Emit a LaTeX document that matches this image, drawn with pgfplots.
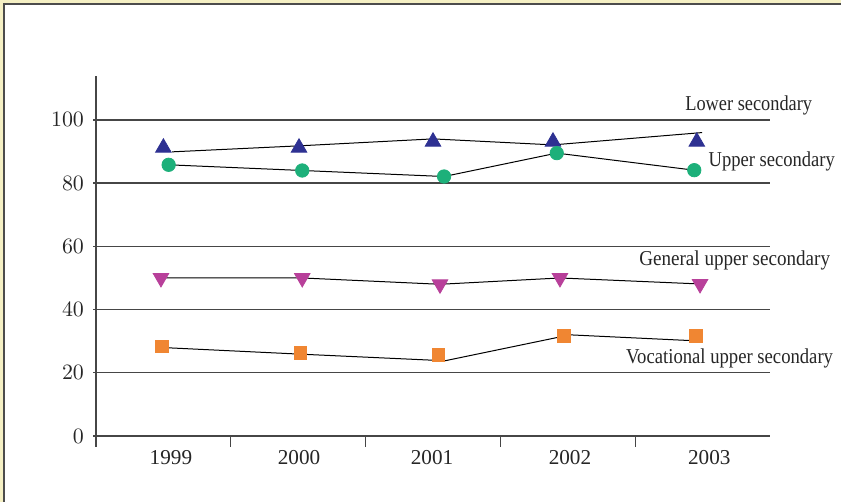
\documentclass[border=0pt]{standalone}
\usepackage{pgfplots}
\pgfplotsset{compat=1.18}
\usepackage{graphicx}
\usepackage{fontspec}
\setmainfont{Liberation Serif}
\definecolor{frameY}{RGB}{245,240,196}
\definecolor{cBlue}{RGB}{46,49,146}
\definecolor{cGreen}{RGB}{29,176,122}
\definecolor{cMag}{RGB}{184,64,154}
\definecolor{cOrange}{RGB}{240,134,50}
\definecolor{cGrid}{RGB}{70,70,70}
\begin{document}
\begin{tikzpicture}[x=1pt,y=1pt]
\useasboundingbox (0,0) rectangle (420.5,251);
\begin{scope}
\clip (0,0) rectangle (420.5,251);
\fill[frameY] (0,0) rectangle (420.5,251);
\filldraw[fill=white, draw=black!70, line width=0.8pt] (2,249) rectangle (440,-20);
\end{scope}
\begin{axis}[
  at={(48pt,33pt)}, anchor=south west,
  scale only axis, width=337pt, height=180pt,
  xmin=-0.5, xmax=4.5, ymin=0, ymax=113.9,
  axis x line*=bottom, axis y line*=left,
  axis line style={-, cGrid, line width=0.65pt},
  clip=false,
  xtick={0.056,1.006,1.993,3.016,4.05},
  xticklabels={1999,2000,2001,2002,2003},
  minor xtick={-0.5,0.5,1.5,2.5,3.5},
  major x tick style={draw=none},
  minor x tick style={cGrid, line width=0.65pt},
  minor tick length=5.5pt,
  major tick length=1.5pt,
  tick align=outside,
  tick style={cGrid, line width=0.65pt},
  ytick={0,20,40,60,80,100},
  ymajorgrids, grid style={cGrid, line width=0.65pt},
  tick label style={font=\fontsize{10.6}{12}\selectfont, text=black!85},
  xticklabel style={yshift=-2pt},
  yticklabel style={xshift=-1pt},
]
% line segments
\addplot[black, line width=0.5pt, mark=none] coordinates {(0.064,89.9) (1.006,91.8) (2.0,94.0) (2.89,92.1) (3.996,96.0)};
\addplot[black, line width=0.5pt, mark=none] coordinates {(0.039,85.8) (1.030,84.0) (2.082,82.1) (2.918,89.5) (3.938,84.1)};
\addplot[black, line width=0.5pt, mark=none] coordinates {(-0.018,50.0) (1.030,50.0) (2.052,48.0) (2.942,50.0) (3.981,48.1)};
\addplot[black, line width=0.5pt, mark=none] coordinates {(0.036,27.9) (1.013,25.9) (2.089,23.8) (3.016,32.0) (3.906,30.2)};
% markers
\addplot[only marks, mark=triangle*, mark size=4.5pt, color=cBlue] coordinates {(0.0,91.2) (1.006,91.2) (2.0,93.1) (2.89,93.1) (3.957,93.1)};
\addplot[only marks, mark=*, mark size=3.35pt, color=cGreen] coordinates {(0.039,85.8) (1.030,84.0) (2.082,82.1) (2.918,89.5) (3.938,84.1)};
\addplot[only marks, mark=triangle*, mark size=4.5pt, mark options={rotate=180}, color=cMag] coordinates {(-0.018,50.0) (1.030,50.0) (2.052,48.0) (2.942,50.0) (3.981,48.1)};
\addplot[only marks, mark=square*, mark size=3.15pt, color=cOrange] coordinates {(-0.013,28.3) (1.016,26.3) (2.039,25.6) (2.972,31.7) (3.951,31.7)};
% series labels
\begin{scope}[every node/.style={anchor=base west, inner sep=0pt, font=\fontsize{10.6}{12}\selectfont, text=black!85}]
\node at (axis cs:3.869,102.9) {\scalebox{0.865}[1]{Lower secondary}};
\node at (axis cs:4.042,85.4) {\scalebox{0.875}[1]{Upper secondary}};
\node at (axis cs:3.528,53.9) {\scalebox{0.9}[1]{General upper secondary}};
\node at (axis cs:3.430,23.0) {\scalebox{0.88}[1]{Vocational upper secondary}};
\end{scope}
\end{axis}
\end{tikzpicture}
\end{document}
